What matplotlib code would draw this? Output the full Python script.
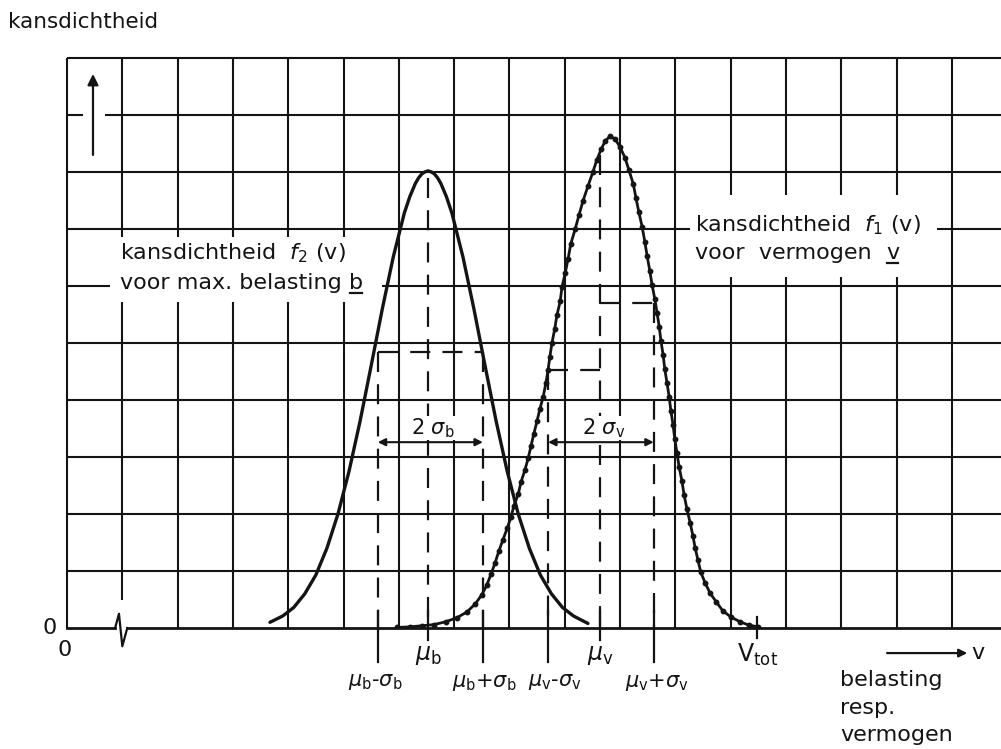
import numpy as np
import matplotlib
matplotlib.use("Agg")
import matplotlib.pyplot as plt
from matplotlib.patches import Rectangle
from matplotlib.lines import Line2D

plt.rcParams["font.family"] = ["DejaVu Sans"]
plt.rcParams["mathtext.fontset"] = "dejavusans"

# ---- data (grid units: one grid cell = 1) ----
# f2(v): kansdichtheid voor max. belasting b
f2_x = [3.67, 3.90, 4.10, 4.30, 4.50, 4.70, 4.90, 5.10, 5.30, 5.50, 5.70, 5.90,
        6.10, 6.20, 6.30, 6.36, 6.42, 6.47, 6.53, 6.59, 6.64, 6.70, 6.76, 6.86,
        6.96, 7.16, 7.36, 7.56, 7.76, 7.96, 8.16, 8.36, 8.56, 8.76, 8.96, 9.16, 9.42]
f2_y = [0.10, 0.21, 0.36, 0.60, 0.93, 1.40, 2.00, 2.75, 3.63, 4.60, 5.59, 6.51,
        7.28, 7.57, 7.80, 7.90, 7.97, 8.00, 8.02, 8.00, 7.97, 7.90, 7.80, 7.57,
        7.28, 6.51, 5.59, 4.60, 3.63, 2.75, 2.00, 1.40, 0.93, 0.60, 0.36, 0.21, 0.08]

# f1(v): kansdichtheid voor vermogen v (dotted curve)
f1_x = [5.97, 6.20, 6.42, 6.64, 6.85, 7.05, 7.23, 7.38, 7.50, 7.59, 7.67, 7.74,
        7.81, 7.88, 7.96, 8.03, 8.08, 8.16, 8.21, 8.28, 8.34, 8.39, 8.44, 8.50,
        8.55, 8.61, 8.66, 8.70, 8.73, 8.77, 8.82, 8.86, 8.92, 8.95, 9.01, 9.06,
        9.11, 9.19, 9.26, 9.33, 9.42, 9.51, 9.58, 9.66, 9.73, 9.82, 9.91, 10.00,
        10.09, 10.16, 10.24, 10.29, 10.34, 10.40, 10.45, 10.49, 10.54, 10.58,
        10.63, 10.67, 10.71, 10.74, 10.78, 10.81, 10.85, 10.89, 10.92, 10.96,
        10.99, 11.03, 11.07, 11.12, 11.16, 11.21, 11.27, 11.32, 11.36, 11.41,
        11.46, 11.54, 11.63, 11.74, 11.86, 12.01, 12.17, 12.33, 12.50]
f1_y = [0.01, 0.02, 0.04, 0.06, 0.11, 0.18, 0.28, 0.42, 0.58, 0.75, 0.95, 1.14,
        1.35, 1.54, 1.75, 1.95, 2.14, 2.35, 2.56, 2.77, 2.98, 3.19, 3.40, 3.63,
        3.84, 4.05, 4.30, 4.53, 4.75, 5.00, 5.25, 5.49, 5.74, 5.98, 6.23, 6.47,
        6.74, 7.00, 7.25, 7.49, 7.75, 8.00, 8.21, 8.40, 8.54, 8.63, 8.58, 8.44,
        8.25, 8.04, 7.79, 7.54, 7.30, 7.04, 6.77, 6.53, 6.26, 6.02, 5.77, 5.53,
        5.28, 5.04, 4.79, 4.54, 4.30, 4.05, 3.81, 3.56, 3.32, 3.07, 2.82, 2.58,
        2.33, 2.09, 1.84, 1.61, 1.40, 1.19, 0.98, 0.79, 0.61, 0.46, 0.30, 0.19,
        0.11, 0.05, 0.02]

# characteristic values on the v axis
mark_labels = [r"$\mu_\mathrm{b}$-$\sigma_\mathrm{b}$", r"$\mu_\mathrm{b}$",
               r"$\mu_\mathrm{b}$+$\sigma_\mathrm{b}$", r"$\mu_\mathrm{v}$-$\sigma_\mathrm{v}$",
               r"$\mu_\mathrm{v}$", r"$\mu_\mathrm{v}$+$\sigma_\mathrm{v}$"]
mark_x = [5.62, 6.53, 7.52, 8.70, 9.64, 10.61]
mark_top = [4.84, 7.90, 4.84, 4.53, 8.30, 5.70]
mark_is_mean = [False, True, False, False, True, False]
v_tot = 12.48
v_tot_label = r"$\mathrm{V_{tot}}$"

# half-width levels (dashed horizontals)
level_b = 4.84
level_v_left = 4.53
level_v_right = 5.70
two_sigma_level = 3.26

title = "kansdichtheid"
label_f2 = [r"kansdichtheid  $f_2$ (v)", "voor max. belasting ", "b"]
label_f1 = [r"kansdichtheid  $f_1$ (v)", "voor  vermogen  ", "v"]
x_axis_label = ["belasting", "resp.", "vermogen"]

# ---- figure ----
ink = "#141414"
FS = 16
fig = plt.figure(figsize=(10.01, 7.49), dpi=100)
fig.patch.set_facecolor("white")
xmax = 934 / 55.3
ax = fig.add_axes([67 / 1001, 121 / 749, 934 / 1001, 570 / 749])
ax.set_xlim(0, xmax)
ax.set_ylim(0, 10)
ax.axis("off")

# grid
cols = np.arange(0, 17)
rows = np.arange(1, 11)
ax.vlines(cols[cols != 1], 0, 10, color=ink, lw=1.5, zorder=1, clip_on=False)
ax.vlines([1], 0.49, 10, color=ink, lw=1.5, zorder=1, clip_on=False)
ax.hlines(rows, 0, xmax, color=ink, lw=1.5, zorder=1, clip_on=False)

# baseline with break symbol
ax.plot([0, 0.87], [0, 0], color=ink, lw=2.0, clip_on=False, zorder=3)
ax.plot([0.87, 0.94, 1.00, 1.09], [0, 0.25, -0.32, 0], color=ink, lw=1.6,
        clip_on=False, zorder=3)
ax.plot([1.09, xmax], [0, 0], color=ink, lw=2.0, clip_on=False, zorder=3)

# white gaps in grid (around arrow and labels)
for (x0, y0, w, h) in [(0.29, 8.8, 0.40, 0.4), (0.78, 5.72, 4.92, 1.14),
                       (11.27, 6.16, 4.46, 1.44)]:
    ax.add_patch(Rectangle((x0, y0), w, h, fc="white", ec="none", zorder=2))

# y-direction arrow
ax.annotate("", xy=(0.47, 9.72), xytext=(0.47, 8.30),
            arrowprops=dict(arrowstyle="-|>", color=ink, lw=1.6,
                            mutation_scale=16, shrinkA=0, shrinkB=0), zorder=3)

# curves
ax.plot(f2_x, f2_y, color=ink, lw=2.4, solid_capstyle="round",
        solid_joinstyle="round", zorder=5)
ax.plot(f1_x, f1_y, color=ink, lw=2.0, marker="o", ms=3.2, zorder=5,
        solid_joinstyle="round")

# dashed verticals, ticks and labels
dash = (0, (9, 5.5))
label_shift = [-0.05, 0.0, 0.02, 0.12, 0.0, 0.06]
for lab, x, top, is_mean, dx in zip(mark_labels, mark_x, mark_top, mark_is_mean, label_shift):
    ax.plot([x, x], [top, 0], color=ink, lw=1.6, ls=dash, zorder=3)
    low = -0.21 if is_mean else -0.60
    ax.plot([x, x], [0.30, low], color=ink, lw=1.6, clip_on=False, zorder=3)
    ty = -0.47 if is_mean else -0.95
    ax.text(x + dx, ty, lab, ha="center", va="center",
            fontsize=17 if is_mean else 15, color=ink)

# dashed horizontals
ax.plot([mark_x[0], mark_x[2]], [level_b, level_b], color=ink, lw=1.6, ls=dash, zorder=3)
ax.plot([mark_x[3], mark_x[4]], [level_v_left, level_v_left], color=ink, lw=1.6, ls=dash, zorder=3)
ax.plot([mark_x[4], mark_x[5]], [level_v_right, level_v_right], color=ink, lw=1.6, ls=dash, zorder=3)

# 2 sigma arrows
for (a, b, lab) in [(mark_x[0], mark_x[2], r"2 $\sigma_\mathrm{b}$"),
                    (mark_x[3], mark_x[5], r"2 $\sigma_\mathrm{v}$")]:
    ax.annotate("", xy=(a, two_sigma_level), xytext=(b, two_sigma_level),
                arrowprops=dict(arrowstyle="<|-|>", color=ink, lw=1.5,
                                mutation_scale=11, shrinkA=0, shrinkB=0), zorder=4)
    ax.text((a + b) / 2 + 0.05, two_sigma_level + 0.25, lab, ha="center", va="center",
            fontsize=15, color=ink, zorder=4,
            bbox=dict(fc="white", ec="none", pad=0.5))

# V_tot
ax.plot([v_tot, v_tot], [0.19, -0.18], color=ink, lw=1.6, clip_on=False, zorder=3)
ax.text(v_tot, -0.47, v_tot_label, ha="center", va="center", fontsize=17, color=ink)

# labels
ax.text(-1.07, 10.63, title, ha="left", va="center", fontsize=15.5, color=ink)
ax.text(0.96, 6.58, label_f2[0], ha="left", va="center", fontsize=FS, color=ink, zorder=6)
ax.text(11.36, 7.07, label_f1[0], ha="left", va="center", fontsize=FS, color=ink, zorder=6)

renderer = fig.canvas.get_renderer()


def underlined_line(x, y, head, letter):
    t1 = ax.text(x, y, head, ha="left", va="baseline", fontsize=FS, color=ink, zorder=6)
    bb = t1.get_window_extent(renderer)
    bx = ax.transData.inverted().transform((bb.x1, 0))[0]
    t2 = ax.text(bx, y, letter, ha="left", va="baseline", fontsize=FS, color=ink, zorder=6)
    b2 = t2.get_window_extent(renderer)
    base_px = ax.transData.transform((0, y))[1]
    uy = base_px - 4
    W, H = fig.bbox.width, fig.bbox.height
    fig.add_artist(Line2D([(b2.x0 + 1) / W, (b2.x1 - 1) / W], [uy / H, uy / H],
                          color=ink, lw=1.6, zorder=6))


underlined_line(0.96, 5.95, label_f2[1], label_f2[2])
underlined_line(11.36, 6.48, label_f1[1], label_f1[2])

ax.text(-0.31, 0.0, "0", ha="center", va="center", fontsize=FS, color=ink)
ax.text(-0.04, -0.39, "0", ha="center", va="center", fontsize=FS, color=ink)

# v-axis arrow and label
ax.annotate("", xy=(16.28, -0.44), xytext=(14.83, -0.44),
            arrowprops=dict(arrowstyle="-|>", color=ink, lw=1.6,
                            mutation_scale=12, shrinkA=0, shrinkB=0), annotation_clip=False)
ax.text(16.47, -0.44, "v", ha="center", va="center", fontsize=FS, color=ink)
for i, t in enumerate(x_axis_label):
    ax.text(13.98, -0.91 - 0.485 * i, t, ha="left", va="center", fontsize=FS, color=ink)

fig.savefig("out.png", dpi=100, facecolor="white")
